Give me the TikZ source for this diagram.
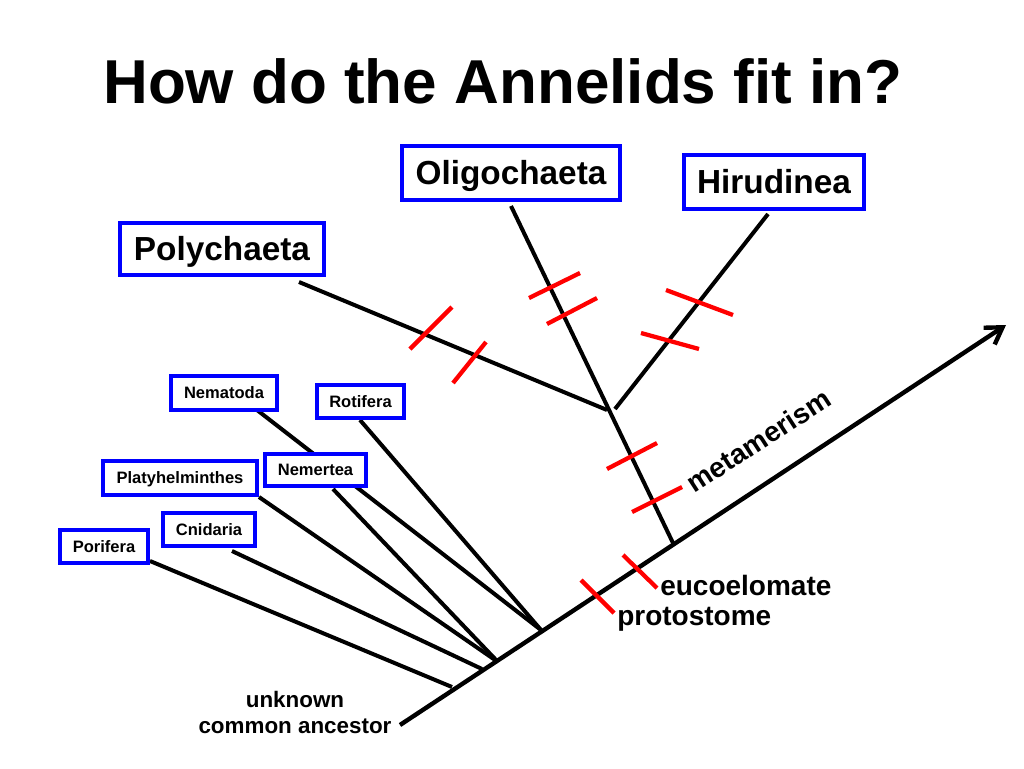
\documentclass[tikz,border=0pt]{standalone}
\usepackage{fontspec}
\setmainfont{Liberation Sans}
\usetikzlibrary{arrows.meta}
\pgfdeclarelayer{bg}
\pgfdeclarelayer{paper}
\pgfsetlayers{paper,bg,main}
\begin{document}
\begin{tikzpicture}[x=0.75pt,y=-0.75pt,
  bigbox/.style={draw=blue, line width=3pt, fill=white, inner sep=0pt, text height=17.9pt, text depth=0pt, font=\fontsize{25}{30}\selectfont\bfseries},
  smallbox/.style={draw=blue, line width=3pt, fill=white, inner sep=0pt, text height=8.9pt, text depth=0pt, font=\fontsize{12.4}{15}\selectfont\bfseries},
  branch/.style={line width=3pt, black},
  hash/.style={line width=3.2pt, red},
  lbl/.style={inner sep=0pt, font=\fontsize{21}{25}\selectfont\bfseries}]
\useasboundingbox (0,0) rectangle (1024,768);
\begin{pgfonlayer}{paper}
\fill[white] (0,0) rectangle (1024,768);
\end{pgfonlayer}
% title
\node[anchor=base west, inner sep=0pt, font=\fontsize{46.5}{56}\selectfont\bfseries] (title) at (103,103) {How do the Annelids fit in?};
% taxon boxes
\node[bigbox, minimum width=153pt, minimum height=39pt] (poly) at (222,249) {Polychaeta};
\node[bigbox, minimum width=163.5pt, minimum height=40.5pt] (oligo) at (511,173) {Oligochaeta};
\node[bigbox, minimum width=135pt, minimum height=40.5pt] (hiru) at (774,182) {Hirudinea};
\node[smallbox, minimum width=79.5pt, minimum height=25.5pt] (nema) at (224,393) {Nematoda};
\node[smallbox, minimum width=65.25pt, minimum height=24.75pt] (roti) at (360.5,401.5) {Rotifera};
\node[smallbox, minimum width=115.5pt, minimum height=25.5pt] (platy) at (180,478) {Platyhelminthes};
\node[smallbox, minimum width=75.75pt, minimum height=24pt] (nemer) at (315.5,470) {Nemertea};
\node[smallbox, minimum width=69pt, minimum height=24.75pt] (cnid) at (209,529.5) {Cnidaria};
\node[smallbox, minimum width=66pt, minimum height=24.75pt] (pori) at (104,546.5) {Porifera};
% connector ends
\coordinate (base) at (400,725);
\coordinate (tip) at (1006,325);
\coordinate (jPori) at (452,687);
\coordinate (jCnid) at (482,669);
\coordinate (jA) at (498,662);
\coordinate (jB) at (541,630);
\coordinate (jAnn) at (673,543);
\coordinate (jPoly) at (607,410);
\coordinate (jHiru) at (615,409);
\coordinate (sPori) at (150,561);
\coordinate (sCnid) at (232,551);
\coordinate (sPlaty) at (259,497);
\coordinate (sNema) at (257,410);
\coordinate (sNemer) at (333,489);
\coordinate (sRoti) at (360,420);
\coordinate (sPoly) at (299,282);
\coordinate (sOligo) at (511,206);
\coordinate (sHiru) at (768,214);
\begin{pgfonlayer}{bg}
\draw[branch, line width=3.3pt, -{Straight Barb[length=12pt,width=15pt]}] (base) -- (tip);
\draw[branch] (sPori) -- (jPori);
\draw[branch] (sCnid) -- (jCnid);
\draw[branch] (sPlaty) -- (jA);
\draw[branch] (sNemer) -- (jA);
\draw[branch] (sNema) -- (jB);
\draw[branch] (sRoti) -- (jB);
\draw[branch] (jAnn) -- (sOligo);
\draw[branch] (sPoly) -- (jPoly);
\draw[branch] (sHiru) -- (jHiru);
\end{pgfonlayer}
% character marks
\draw[hash] (410,349) -- (452,307);
\draw[hash] (453,383) -- (486,342);
\draw[hash] (529,298) -- (580,273);
\draw[hash] (547,324) -- (597,298);
\draw[hash] (666,290) -- (733,315);
\draw[hash] (641,333) -- (699,349);
\draw[hash] (607,469) -- (657,443);
\draw[hash] (632,512) -- (682,487);
\draw[hash] (623,555) -- (657,588);
\draw[hash] (581,580) -- (614,613);
% labels
\node[lbl, anchor=base west] (euco) at (660,595) {eucoelomate};
\node[lbl, anchor=base west] (proto) at (617,625) {protostome};
\node[lbl, anchor=base, rotate=33] (meta) at (764,449) {metamerism};
\node[anchor=base, align=center, inner sep=0pt, font=\fontsize{16.8}{19.5}\selectfont\bfseries] (anc) at (295,733) {unknown\\common ancestor};
\end{tikzpicture}
\end{document}
